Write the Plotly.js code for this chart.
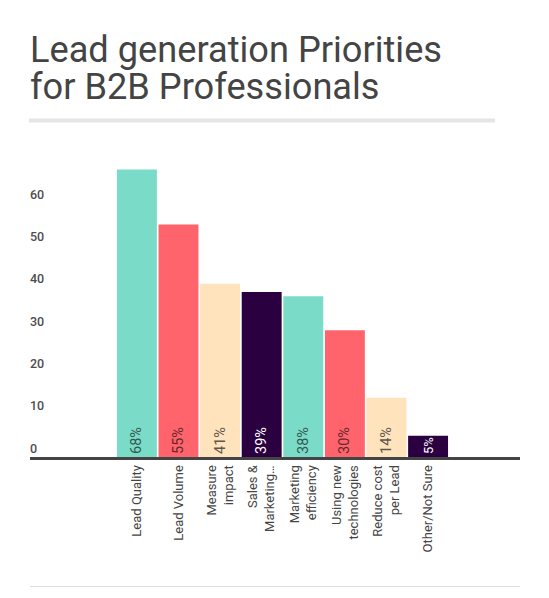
<!DOCTYPE html>
<html>
<head>
<meta charset="utf-8">
<script src="https://cdn.plot.ly/plotly-3.0.1.min.js"></script>
<style>
  html, body { margin: 0; padding: 0; background: #fff; }
  #chart { width: 549px; height: 598px; }
</style>
</head>
<body>
<div id="chart"></div>
<script>
let categories = [
    "Lead Quality",
    "Lead Volume",
    "Measure<br>impact",
    "Sales &<br>Marketing…",
    "Marketing<br>efficiency",
    "Using new<br>technologies",
    "Reduce cost<br>per Lead",
    "Other/Not Sure"
];
let share_values = [68, 55, 41, 39, 38, 30, 14, 5];
let y_ticks = [0, 10, 20, 30, 40, 50, 60];

let bar_colors = ["#7adbc8", "#ff636b", "#ffe3bd", "#2b0040", "#7adbc8", "#ff636b", "#ffe3bd", "#2b0040"];
let label_colors = ["#33594f", "#66282c", "#5e574c", "#ffffff", "#33594f", "#66282c", "#5e574c", "#ffffff"];
let label_sizes = [14.5, 14.5, 14.5, 14.5, 14.5, 14.5, 14.5, 13];

// pixel helpers: plot area is 30..520 wide, 161.3..456.7 high
let plot_top = 161.3, plot_bottom = 456.7;
function py(p) { return (plot_bottom - p) / (plot_bottom - plot_top); }
function px(p) { return (p - 30) / 490; }

let bars = {
    type: 'bar',
    x: categories,
    y: share_values,
    text: share_values.map(v => v + '%'),
    textposition: 'inside',
    insidetextanchor: 'start',
    textangle: -90,
    constraintext: 'none',
    textfont: { family: 'Roboto', size: label_sizes, color: label_colors },
    marker: { color: bar_colors },
    hoverinfo: 'x+y'
};

let layout = {
    width: 549,
    height: 598,
    margin: { l: 30, r: 29, t: plot_top, b: 598 - plot_bottom, pad: 0 },
    paper_bgcolor: '#ffffff',
    plot_bgcolor: '#ffffff',
    showlegend: false,
    bargap: 0.04,
    font: { family: 'Roboto', color: '#444444' },
    xaxis: {
        type: 'category',
        range: [-2.57, 9.21],
        tickangle: -90,
        showline: true,
        linecolor: '#444444',
        linewidth: 3,
        ticks: '',
        showgrid: false,
        zeroline: false,
        tickfont: { family: 'Roboto', size: 13, color: '#444444' },
        automargin: false
    },
    yaxis: {
        range: [0, 70],
        tickvals: y_ticks,
        ticktext: y_ticks.map(String),
        ticklabelposition: 'inside top',
        ticklabelstandoff: -3,
        showgrid: false,
        zeroline: false,
        showline: false,
        ticks: '',
        tickfont: { family: 'Roboto', size: 12.5, color: '#4d4d4d', weight: 500 },
        automargin: false
    },
    annotations: [
        {
            text: 'Lead generation Priorities',
            xref: 'paper', yref: 'paper',
            x: px(28), y: py(50),
            xanchor: 'left', yanchor: 'middle',
            showarrow: false,
            font: { family: 'Roboto', size: 36.2, color: '#444444' }
        },
        {
            text: 'for B2B Professionals',
            xref: 'paper', yref: 'paper',
            x: px(28), y: py(87),
            xanchor: 'left', yanchor: 'middle',
            showarrow: false,
            font: { family: 'Roboto', size: 36.2, color: '#444444' }
        }
    ],
    shapes: [
        {
            type: 'rect', xref: 'paper', yref: 'paper',
            x0: px(29), x1: px(495), y0: py(119), y1: py(123),
            fillcolor: '#e5e5e5', line: { width: 0 }
        },
        {
            type: 'line', xref: 'paper', yref: 'paper',
            x0: px(30), x1: px(520), y0: py(586), y1: py(586),
            line: { color: '#dddddd', width: 1 }
        }
    ]
};

Plotly.newPlot('chart', [bars], layout, { displayModeBar: false, staticPlot: true });
</script>
</body>
</html>
